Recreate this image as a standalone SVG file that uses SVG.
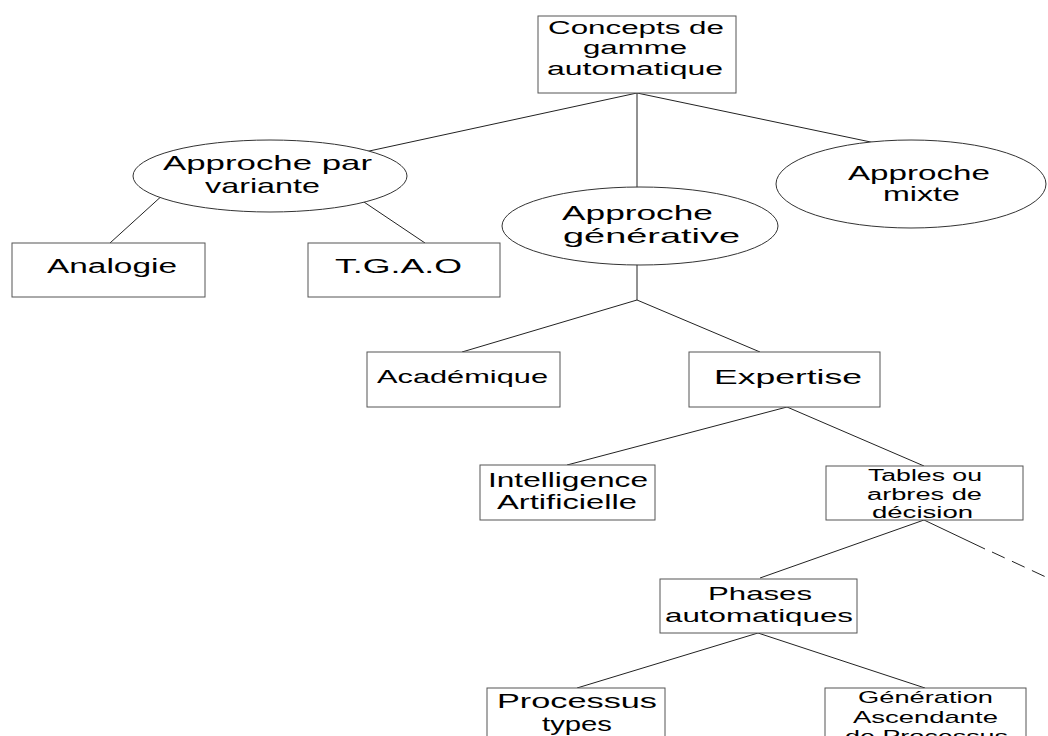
<svg xmlns="http://www.w3.org/2000/svg" width="1048" height="736" viewBox="0 0 1048 736">
<style>
.bg{fill:#ffffff}
.box{fill:#ffffff;stroke:#555;stroke-width:1}
.ell{fill:#ffffff;stroke:#333;stroke-width:1}
.ln{stroke:#222;stroke-width:1;fill:none}
.dash{stroke:#222;stroke-width:1;fill:none;stroke-dasharray:14 8}
text{font-family:"Liberation Sans",Arial,sans-serif;fill:#000}
</style>
<rect class="bg" x="0" y="0" width="1048" height="736"/>
<g id="connectors">
<line class="ln" x1="637" y1="93" x2="360" y2="153"/>
<line class="ln" x1="637" y1="93" x2="637" y2="195"/>
<line class="ln" x1="637" y1="93" x2="885" y2="145"/>
<line class="ln" x1="165" y1="193" x2="110" y2="243"/>
<line class="ln" x1="358" y1="198" x2="425" y2="243"/>
<line class="ln" x1="637" y1="260" x2="637" y2="300"/>
<line class="ln" x1="637" y1="300" x2="462" y2="352"/>
<line class="ln" x1="637" y1="300" x2="760" y2="352"/>
<line class="ln" x1="787" y1="407" x2="567" y2="465"/>
<line class="ln" x1="787" y1="407" x2="924" y2="466"/>
<line class="ln" x1="924" y1="520" x2="760" y2="578"/>
<line class="ln" x1="924" y1="520" x2="985" y2="549"/>
<line class="dash" x1="992" y1="552" x2="1048" y2="578"/>
<line class="ln" x1="758" y1="633" x2="577" y2="688"/>
<line class="ln" x1="758" y1="633" x2="925" y2="688"/>
</g>
<g id="n-concepts">
<rect class="box" x="538" y="16" width="198" height="77"/>
<text x="548" y="34" font-size="18" textLength="176" lengthAdjust="spacingAndGlyphs">Concepts de</text>
<text x="583" y="54" font-size="18" textLength="104" lengthAdjust="spacingAndGlyphs">gamme</text>
<text x="547" y="75" font-size="18" textLength="176" lengthAdjust="spacingAndGlyphs">automatique</text>
</g>
<g id="n-variante">
<ellipse class="ell" cx="270" cy="176" rx="137" ry="36"/>
<text x="163" y="170" font-size="21" textLength="209" lengthAdjust="spacingAndGlyphs">Approche par</text>
<text x="205" y="193" font-size="21" textLength="115" lengthAdjust="spacingAndGlyphs">variante</text>
</g>
<g id="n-generative">
<ellipse class="ell" cx="640" cy="226" rx="138" ry="39"/>
<text x="562" y="220" font-size="21" textLength="151" lengthAdjust="spacingAndGlyphs">Approche</text>
<text x="563" y="243" font-size="21" textLength="177" lengthAdjust="spacingAndGlyphs">générative</text>
</g>
<g id="n-mixte">
<ellipse class="ell" cx="911" cy="184" rx="135" ry="44"/>
<text x="848" y="180" font-size="21" textLength="142" lengthAdjust="spacingAndGlyphs">Approche</text>
<text x="883" y="201" font-size="21" textLength="77" lengthAdjust="spacingAndGlyphs">mixte</text>
</g>
<g id="n-analogie">
<rect class="box" x="12" y="243" width="193" height="54"/>
<text x="47" y="273" font-size="20" textLength="130" lengthAdjust="spacingAndGlyphs">Analogie</text>
</g>
<g id="n-tgao">
<rect class="box" x="308" y="243" width="192" height="54"/>
<text x="335" y="273" font-size="20" textLength="127" lengthAdjust="spacingAndGlyphs">T.G.A.O</text>
</g>
<g id="n-academique">
<rect class="box" x="367" y="352" width="193" height="55"/>
<text x="377" y="383" font-size="19" textLength="171" lengthAdjust="spacingAndGlyphs">Académique</text>
</g>
<g id="n-expertise">
<rect class="box" x="689" y="352" width="191" height="55"/>
<text x="714" y="384" font-size="21" textLength="148" lengthAdjust="spacingAndGlyphs">Expertise</text>
</g>
<g id="n-ia">
<rect class="box" x="480" y="465" width="175" height="55"/>
<text x="488" y="487" font-size="20" textLength="160" lengthAdjust="spacingAndGlyphs">Intelligence</text>
<text x="497" y="509" font-size="20" textLength="140" lengthAdjust="spacingAndGlyphs">Artificielle</text>
</g>
<g id="n-tables">
<rect class="box" x="826" y="466" width="197" height="54"/>
<text x="868" y="481" font-size="16" textLength="114" lengthAdjust="spacingAndGlyphs">Tables ou</text>
<text x="867" y="500" font-size="16" textLength="115" lengthAdjust="spacingAndGlyphs">arbres de</text>
<text x="872" y="518" font-size="16" textLength="101" lengthAdjust="spacingAndGlyphs">décision</text>
</g>
<g id="n-phases">
<rect class="box" x="660" y="579" width="197" height="54"/>
<text x="708" y="600" font-size="19" textLength="104" lengthAdjust="spacingAndGlyphs">Phases</text>
<text x="665" y="622" font-size="19" textLength="188" lengthAdjust="spacingAndGlyphs">automatiques</text>
</g>
<g id="n-processus">
<rect class="box" x="487" y="688" width="178" height="60"/>
<text x="497" y="708" font-size="21" textLength="160" lengthAdjust="spacingAndGlyphs">Processus</text>
<text x="542" y="731" font-size="21" textLength="70" lengthAdjust="spacingAndGlyphs">types</text>
</g>
<g id="n-generation">
<rect class="box" x="825" y="688" width="201" height="60"/>
<text x="858" y="703" font-size="17" textLength="135" lengthAdjust="spacingAndGlyphs">Génération</text>
<text x="853" y="723" font-size="17" textLength="145" lengthAdjust="spacingAndGlyphs">Ascendante</text>
<text x="845" y="742" font-size="17" textLength="163" lengthAdjust="spacingAndGlyphs">de Processus</text>
</g>
</svg>
